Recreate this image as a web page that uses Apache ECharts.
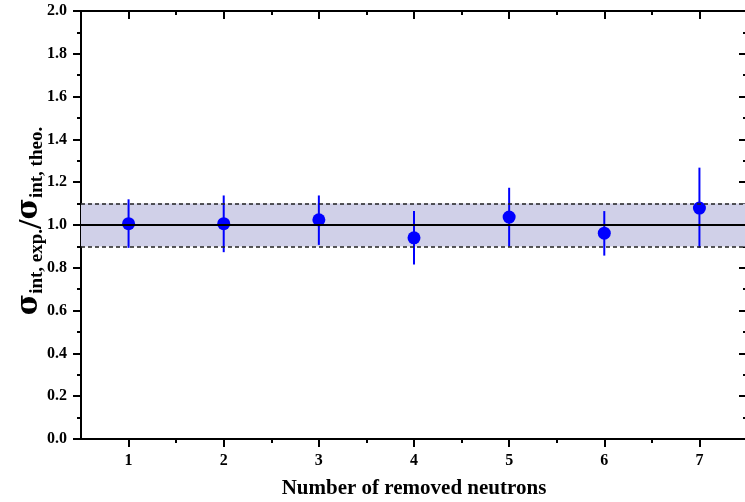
<!DOCTYPE html>
<html>
<head>
<meta charset="utf-8">
<script src="https://cdn.jsdelivr.net/npm/echarts@6/dist/echarts.min.js"></script>
<style>
  html, body { margin: 0; padding: 0; background: #fff; }
  #chart { width: 745px; height: 502px; }
</style>
</head>
<body>
<div id="chart"></div>
<script>
// data
const removedNeutrons = [1, 2, 3, 4, 5, 6, 7];
const ratio = [1.006, 1.006, 1.024, 0.940, 1.037, 0.962, 1.079];
const errLow = [0.893, 0.873, 0.907, 0.815, 0.899, 0.857, 0.893];
const errHigh = [1.120, 1.138, 1.138, 1.065, 1.174, 1.065, 1.268];
const bandRange = [0.9, 1.1];
const refValue = 1.0;
const xMajorTicks = [1, 2, 3, 4, 5, 6, 7];
const xMinorTicks = [1.5, 2.5, 3.5, 4.5, 5.5, 6.5];

const serif = "'Liberation Serif', 'Times New Roman', serif";
const black = '#000';
const blue = '#0000ff';

const chart = echarts.init(document.getElementById('chart'));

const baseX = {
  type: 'value',
  min: 0.5,
  max: 7.5,
  splitLine: { show: false },
  axisLine: { show: false },
  axisTick: { show: false },
  axisLabel: { show: false }
};

chart.setOption({
  animation: false,
  grid: { left: 81, top: 11, width: 666, height: 428, outerBoundsMode: 'none' },
  xAxis: [
    {
      ...baseX,
      position: 'bottom',
      axisLine: { show: true, lineStyle: { color: black, width: 2 } },
      axisTick: { show: true, customValues: xMajorTicks, length: 8, lineStyle: { color: black, width: 2 } },
      axisLabel: {
        show: true, customValues: xMajorTicks, margin: 14,
        color: black, fontFamily: serif, fontWeight: 'bold', fontSize: 16
      },
      name: 'Number of removed neutrons',
      nameLocation: 'middle',
      nameGap: 39,
      nameTextStyle: { color: black, fontFamily: serif, fontWeight: 'bold', fontSize: 21 }
    },
    {
      ...baseX,
      position: 'bottom',
      axisTick: { show: true, customValues: xMinorTicks, length: 4, lineStyle: { color: black, width: 2 } }
    },
    {
      ...baseX,
      position: 'top',
      axisLine: { show: true, lineStyle: { color: black, width: 2 } },
      axisTick: { show: true, inside: true, customValues: xMajorTicks, length: 8, lineStyle: { color: black, width: 2 } }
    },
    {
      ...baseX,
      position: 'top',
      axisTick: { show: true, inside: true, customValues: xMinorTicks, length: 4, lineStyle: { color: black, width: 2 } }
    }
  ],
  yAxis: [
    {
      type: 'value',
      position: 'left',
      min: 0,
      max: 2,
      interval: 0.2,
      splitLine: { show: false },
      axisLine: { show: true, lineStyle: { color: black, width: 2 } },
      axisTick: { show: true, length: 8, lineStyle: { color: black, width: 2 } },
      minorTick: { show: true, splitNumber: 2, length: 4, lineStyle: { color: black, width: 2 } },
      axisLabel: {
        margin: 14, color: black, fontFamily: serif, fontWeight: 'bold', fontSize: 16,
        formatter: v => v.toFixed(1)
      }
    },
    {
      type: 'value',
      position: 'right',
      min: 0,
      max: 2,
      interval: 0.2,
      splitLine: { show: false },
      axisLine: { show: true, lineStyle: { color: black, width: 2 } },
      axisTick: { show: true, inside: true, length: 8, lineStyle: { color: black, width: 2 } },
      minorTick: { show: true, splitNumber: 2, length: 4, lineStyle: { color: black, width: 2 } },
      axisLabel: { show: false }
    }
  ],
  graphic: [{
    type: 'text',
    x: 31,
    y: 221,
    rotation: Math.PI / 2,
    style: {
      text: '{s|σ}{sub|int, exp.}{sl|/}{s|σ}{sub|int, theo.}',
      align: 'center',
      verticalAlign: 'middle',
      fill: black,
      rich: {
        s: { fontFamily: "'DejaVu Serif', serif", fontWeight: 'bold', fontSize: 29, lineHeight: 32, verticalAlign: 'top' },
        sl: { fontFamily: serif, fontWeight: 'bold', fontSize: 34, lineHeight: 32, verticalAlign: 'top' },
        sub: { fontFamily: serif, fontWeight: 'bold', fontSize: 19, lineHeight: 19, verticalAlign: 'bottom' }
      }
    }
  }],
  series: [
    {
      // shaded band and reference lines
      type: 'line',
      data: [],
      z: 1,
      markArea: {
        silent: true,
        itemStyle: { color: '#d0d0e8' },
        data: [[{ yAxis: bandRange[0] }, { yAxis: bandRange[1] }]]
      },
      markLine: {
        silent: true,
        symbol: ['none', 'none'],
        label: { show: false },
        data: [
          { yAxis: bandRange[0], lineStyle: { color: '#222', width: 1.5, type: [4, 3] } },
          { yAxis: bandRange[1], lineStyle: { color: '#222', width: 1.5, type: [4, 3] } },
          { yAxis: refValue, lineStyle: { color: black, width: 2, type: 'solid' } }
        ]
      }
    },
    {
      // error bars
      type: 'custom',
      z: 3,
      data: removedNeutrons.map((x, i) => [x, errLow[i], errHigh[i]]),
      encode: { x: 0, y: [1, 2] },
      renderItem: (params, api) => {
        const x = api.value(0);
        const lo = api.coord([x, api.value(1)]);
        const hi = api.coord([x, api.value(2)]);
        return {
          type: 'line',
          shape: { x1: lo[0], y1: lo[1], x2: hi[0], y2: hi[1] },
          style: { stroke: blue, lineWidth: 2 }
        };
      }
    },
    {
      type: 'scatter',
      z: 4,
      symbol: 'circle',
      symbolSize: 13,
      itemStyle: { color: blue, opacity: 1 },
      data: removedNeutrons.map((x, i) => [x, ratio[i]])
    }
  ]
});
</script>
</body>
</html>
